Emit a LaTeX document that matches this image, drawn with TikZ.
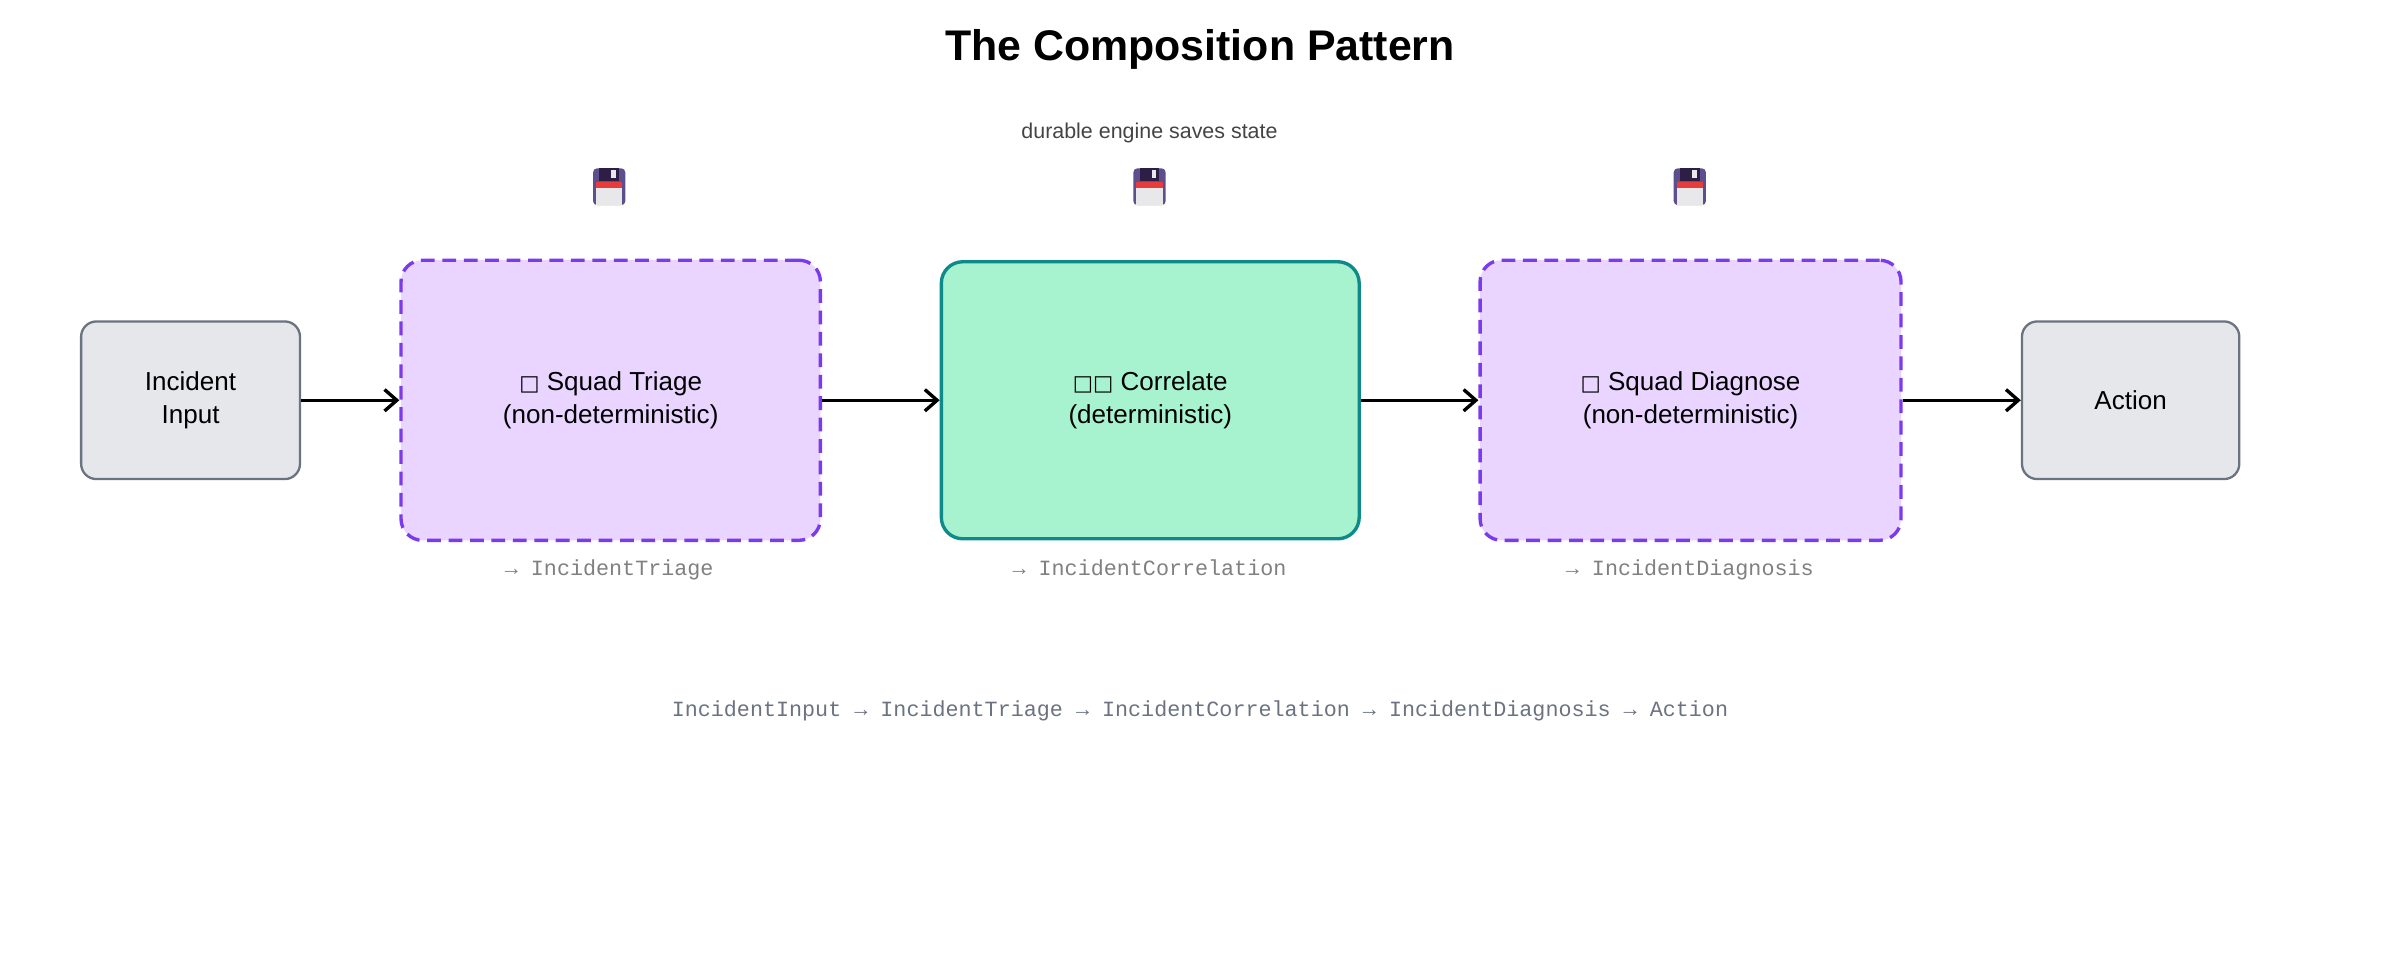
\documentclass[tikz,border=0pt]{standalone}
\usetikzlibrary{arrows.meta}
\usepackage{fontspec}
\setmainfont{Liberation Sans}
\setmonofont{Liberation Mono}
\newfontfamily\dejavu{DejaVu Sans}
\definecolor{fpurp}{RGB}{93,78,140}
\definecolor{fdark}{RGB}{45,30,70}
\definecolor{fred}{RGB}{230,60,60}
\definecolor{flab}{RGB}{232,232,235}
\definecolor{iofill}{RGB}{229,231,235}
\definecolor{iodraw}{RGB}{107,114,128}
\definecolor{ndfill}{RGB}{233,213,255}
\definecolor{nddraw}{RGB}{124,58,237}
\definecolor{dtfill}{RGB}{167,243,208}
\definecolor{dtdraw}{RGB}{14,138,138}
\definecolor{labc}{RGB}{128,128,128}
\definecolor{durc}{RGB}{68,68,68}
\begin{document}
\begin{tikzpicture}[x=1pt,y=-1pt,
 box/.style={rounded corners=14pt,line width=1.5pt,align=center,font=\fontsize{17}{22}\selectfont,inner sep=0pt},
 io/.style={box,rounded corners=10pt,fill=iofill,draw=iodraw},
 nd/.style={box,fill=ndfill,draw=nddraw,dash pattern=on 9pt off 5pt,line width=2.2pt},
 dt/.style={box,fill=dtfill,draw=dtdraw,line width=2.2pt},
 lab/.style={font=\ttfamily\fontsize{14.2}{16}\selectfont,text=labc,anchor=base},
 arr/.style={->,line width=2.2pt,>={Straight Barb[length=8pt,width=14pt]}}]
\useasboundingbox (0,0) rectangle (1568,627);
\node[font=\bfseries\fontsize{28}{32}\selectfont] (title) at (784,32) {The Composition Pattern};
\node[font=\fontsize{14}{16}\selectfont,text=durc] (dur) at (751,87) {durable engine saves state};
\node[io,minimum width=143pt,minimum height=103pt] (in) at (124.5,261.5) {Incident\\Input};
\node[nd,minimum width=274pt,minimum height=183pt] (tri) at (399,261.5) {{\dejavu\fontsize{14}{16}\selectfont □} Squad Triage\\(non-deterministic)};
\node[dt,minimum width=273pt,minimum height=181pt] (cor) at (751.5,261.5) {{\dejavu\fontsize{14}{16}\selectfont □□} Correlate\\(deterministic)};
\node[nd,minimum width=275pt,minimum height=183pt] (dia) at (1104.5,261.5) {{\dejavu\fontsize{14}{16}\selectfont □} Squad Diagnose\\(non-deterministic)};
\node[io,minimum width=142pt,minimum height=103pt] (act) at (1392,261.5) {Action};
\draw[arr] (in.east) -- (tri.west);
\draw[arr] (tri.east) -- (cor.west);
\draw[arr] (cor.east) -- (dia.west);
\draw[arr] (dia.east) -- (act.west);
\node[lab] (l1) at (398,376) {→ IncidentTriage};
\node[lab] (l2) at (751,376) {→ IncidentCorrelation};
\node[lab] (l3) at (1104,376) {→ IncidentDiagnosis};
\node[lab,text=iodraw] (seq) at (784,468) {IncidentInput → IncidentTriage → IncidentCorrelation → IncidentDiagnosis → Action};
\foreach \cx/\nm in {398/f1,751/f2,1104/f3}{
 \begin{scope}[shift={(\cx,122)}]
  \fill[fpurp,rounded corners=2.5pt] (-10.5,-12) rectangle (10.5,12);
  \fill[fdark] (-6.5,-12) rectangle (6.5,-4);
  \fill[flab] (1.5,-11) rectangle (4.5,-6);
  \fill[fred] (-8.5,-3) rectangle (8.5,0.5);
  \fill[flab] (-8.5,0.5) rectangle (8.5,12);
  \coordinate (\nm) at (0,0);
 \end{scope}}
\end{tikzpicture}
\end{document}
